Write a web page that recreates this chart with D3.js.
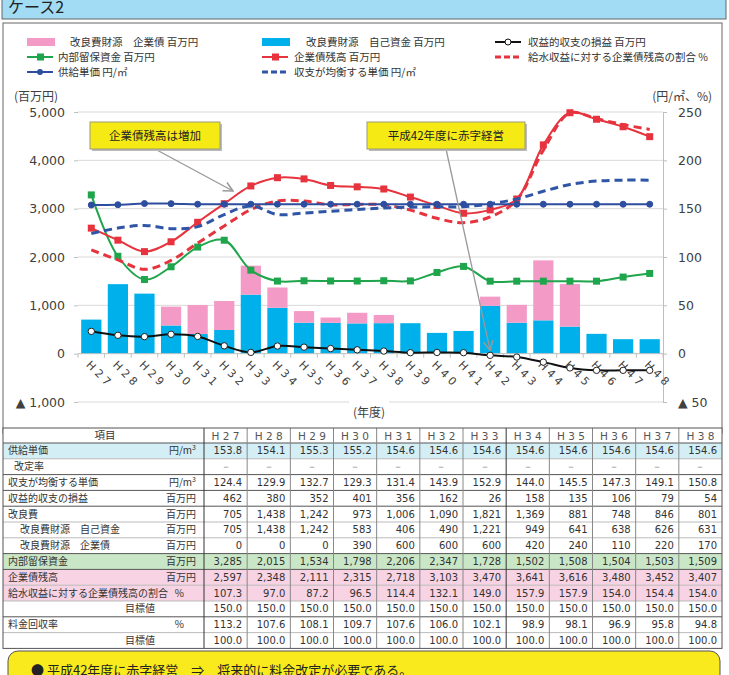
<!DOCTYPE html>
<html>
<head>
<meta charset="utf-8">
<script src="https://cdn.jsdelivr.net/npm/d3@7"></script>
<style>
  body { margin: 0; background: #fff; }
  svg { display: block; font-family: "Noto Sans CJK JP", sans-serif; }
</style>
</head>
<body>
<svg id="chart" width="729" height="675"></svg>
<script>
// ---- data (H27..H48) ----
const years = ['H27','H28','H29','H30','H31','H32','H33','H34','H35','H36','H37','H38',
               'H39','H40','H41','H42','H43','H44','H45','H46','H47','H48'];
// 改良費財源 自己資金 (百万円)
const jikoShikin = [705,1438,1242,583,406,490,1221,949,641,638,626,631,
                    630,430,470,990,640,690,560,410,300,300];
// 改良費財源 企業債 (百万円)
const kigyosai = [0,0,0,390,600,600,600,420,240,110,220,170,
                  0,0,0,190,370,1240,880,0,0,0];
// 収益的収支の損益 (百万円)
const soneki = [462,380,352,401,356,162,26,158,135,106,79,54,
                20,25,20,-35,-70,-175,-295,-345,-345,-345];
// 内部留保資金 (百万円)
const ryuho = [3285,2015,1534,1798,2206,2347,1728,1502,1508,1504,1503,1509,
               1505,1680,1805,1500,1500,1500,1500,1500,1585,1660];
// 企業債残高 (百万円)
const zandaka = [2597,2348,2111,2315,2718,3103,3470,3641,3616,3480,3452,3407,
                 3240,3065,2905,2975,3200,4320,4985,4850,4695,4490];
// 給水収益に対する企業債残高の割合 (%)
const zandakaRatio = [107.3,97.0,87.2,96.5,114.4,132.1,149.0,157.9,157.9,154.0,154.4,154.0,
                      148.5,140.0,135.5,141.5,159.0,210.5,249.0,243.0,237.0,232.0];
// 供給単価 (円/㎡)
const kyokyuTanka = [153.8,154.1,155.3,155.2,154.6,154.6,154.6,154.6,154.6,154.6,154.6,154.6,
                     154.6,154.6,154.6,154.6,154.6,154.6,154.6,154.6,154.6,154.6];
// 収支が均衡する単価 (円/㎡)
const kinkoTanka = [124.4,129.9,132.7,129.3,131.4,143.9,152.9,144.0,145.5,147.3,149.1,150.8,
                    151.5,152.0,152.0,155.0,160.0,168.0,175.0,178.5,179.5,179.5];

// table-only rows (H27..H38)
const kaiteiRitsu = Array(12).fill('－');
const kairyohi = [705,1438,1242,973,1006,1090,1821,1369,881,748,846,801];
const ratioTarget = Array(12).fill(150.0);
const kaishuRitsu = [113.2,107.6,108.1,109.7,107.6,106.0,102.1,98.9,98.1,96.9,95.8,94.8];
const kaishuTarget = Array(12).fill(100.0);

const leftTicks = [-1000,0,1000,2000,3000,4000,5000];
const rightTicks = [-50,0,50,100,150,200,250];

// ---- drawing ----
const svg = d3.select('#chart');
const NUM = '"DejaVu Sans", Verdana, sans-serif';
const C = {
  blue: '#00b0ea', pink: '#f49ac6', green: '#1fa54b', red: '#e6333d',
  navy: '#2d4d9e', navyDash: '#2f55a6', black: '#111', grid: '#d9d9d9', text: '#404040'
};

// header bar
svg.append('rect').attr('x', 2).attr('y', -2).attr('width', 724).attr('height', 21)
  .attr('fill', '#a2dcf4').attr('stroke', '#666');
svg.append('text').attr('x', 8).attr('y', 13).attr('font-size', 16).attr('fill', '#222')
  .text('ケース2');

// chart frame
svg.append('rect').attr('x', 3).attr('y', 23).attr('width', 719).attr('height', 410)
  .attr('fill', '#fff').attr('stroke', '#666');

const x = d3.scaleBand().domain(years).range([78, 663]).paddingInner(0.24).paddingOuter(0.12);
const cx = d => x(d) + x.bandwidth() / 2;
const yL = d3.scaleLinear().domain([-1000, 5000]).range([402, 112]);
const yR = d3.scaleLinear().domain([-50, 250]).range([402, 112]);

// gridlines
svg.append('g').selectAll('line').data(leftTicks.filter(v => v !== 0)).enter().append('line')
  .attr('x1', 78).attr('x2', 663)
  .attr('y1', d => yL(d)).attr('y2', d => yL(d))
  .attr('stroke', C.grid);

const fmtL = v => v < 0 ? '▲ ' + d3.format(',')(-v) : d3.format(',')(v);
const axL = svg.append('g').attr('transform', 'translate(78,0)')
  .call(d3.axisLeft(yL).tickValues(leftTicks).tickFormat(fmtL).tickSize(4).tickPadding(9));
const axR = svg.append('g').attr('transform', 'translate(663,0)')
  .call(d3.axisRight(yR).tickValues(rightTicks)
    .tickFormat(v => v < 0 ? '▲ ' + (-v) : v).tickSize(4).tickPadding(11));
axL.select('.domain').remove();
axR.select('.domain').attr('stroke', '#bfbfbf');
[axL, axR].forEach(a => {
  a.selectAll('.tick line').attr('stroke', '#bfbfbf');
  a.selectAll('text').attr('font-family', NUM).attr('font-size', 12.5).attr('fill', C.text);
});

// axis titles
svg.append('text').attr('x', 14).attr('y', 101).attr('font-size', 12).attr('fill', C.text).text('(百万円)');
svg.append('text').attr('x', 712).attr('y', 101).attr('text-anchor', 'end')
  .attr('font-size', 12).attr('fill', C.text).text('(円/㎡、%)');
svg.append('rect').attr('x', 349).attr('y', 398).attr('width', 40).attr('height', 10).attr('fill', '#fff');
svg.append('text').attr('x', 369).attr('y', 417).attr('text-anchor', 'middle')
  .attr('font-size', 12).attr('fill', C.text).text('(年度)');

// stacked bars
const bars = svg.append('g');
bars.selectAll('.own').data(years).enter().append('rect')
  .attr('x', d => x(d)).attr('width', x.bandwidth())
  .attr('y', (d, i) => yL(jikoShikin[i])).attr('height', (d, i) => yL(0) - yL(jikoShikin[i]))
  .attr('fill', C.blue);
bars.selectAll('.bond').data(years).enter().append('rect')
  .attr('x', d => x(d)).attr('width', x.bandwidth())
  .attr('y', (d, i) => yL(jikoShikin[i] + kigyosai[i]))
  .attr('height', (d, i) => yL(jikoShikin[i]) - yL(jikoShikin[i] + kigyosai[i]))
  .attr('fill', C.pink);

// x axis baseline & ticks
svg.append('line').attr('x1', 78).attr('x2', 663).attr('y1', yL(0)).attr('y2', yL(0)).attr('stroke', '#bfbfbf');
svg.append('g').selectAll('line').data(years.concat(['end'])).enter().append('line')
  .attr('x1', (d, i) => i < years.length ? x(d) - x.step() * x.paddingInner() / 2 : 663)
  .attr('x2', (d, i) => i < years.length ? x(d) - x.step() * x.paddingInner() / 2 : 663)
  .attr('y1', yL(0)).attr('y2', yL(0) + 4).attr('stroke', '#bfbfbf');

// category labels (rotated)
svg.append('g').selectAll('text').data(years).enter().append('text')
  .attr('transform', d => `translate(${cx(d) - 3},${yL(0) + 9}) rotate(45)`)
  .attr('font-family', NUM).attr('font-size', 11).attr('fill', C.text)
  .attr('dy', '0.35em')
  .text(d => d.split('').join(' '));

// lines
function series(vals, scale, color, width, dash) {
  const line = d3.line().x((d, i) => cx(years[i])).y(d => scale(d))
    .curve(d3.curveCatmullRom.alpha(0.5));
  svg.append('path').datum(vals).attr('d', line).attr('fill', 'none')
    .attr('stroke', color).attr('stroke-width', width)
    .attr('stroke-dasharray', dash || null);
}
function squares(vals, scale, color) {
  svg.append('g').selectAll('rect').data(vals).enter().append('rect')
    .attr('x', (d, i) => cx(years[i]) - 3.5).attr('y', d => scale(d) - 3.5)
    .attr('width', 7).attr('height', 7).attr('fill', color);
}
function dots(vals, scale, color, fill, r) {
  svg.append('g').selectAll('circle').data(vals).enter().append('circle')
    .attr('cx', (d, i) => cx(years[i])).attr('cy', d => scale(d)).attr('r', r)
    .attr('fill', fill).attr('stroke', color).attr('stroke-width', 1);
}

series(ryuho, yL, C.green, 2);
squares(ryuho, yL, C.green);
series(zandakaRatio, yR, C.red, 3, '8,5');
series(zandaka, yL, C.red, 2);
squares(zandaka, yL, C.red);
series(kinkoTanka, yR, C.navyDash, 3, '8,5');
series(kyokyuTanka, yR, C.navy, 2);
dots(kyokyuTanka, yR, C.navy, C.navy, 3);
series(soneki, yL, C.black, 2);
dots(soneki, yL, '#222', '#fff', 3.2);

// annotations
const defs = svg.append('defs');
defs.append('marker').attr('id', 'arr').attr('viewBox', '0 0 10 10').attr('refX', 9).attr('refY', 5)
  .attr('markerWidth', 9).attr('markerHeight', 9).attr('orient', 'auto')
  .append('path').attr('d', 'M1,1 L9,5 L1,9').attr('fill', 'none').attr('stroke', '#999').attr('stroke-width', 1.3);

function note(bx, by, bw, bh, label, ax, ay) {
  svg.append('line').attr('x1', bx + bw / 2 + (ax > bx + bw ? 0 : 0)).attr('y1', by + bh)
    .attr('x2', ax).attr('y2', ay).attr('stroke', '#999').attr('stroke-width', 1.3)
    .attr('marker-end', 'url(#arr)');
  svg.append('rect').attr('x', bx + 2).attr('y', by + 2).attr('width', bw).attr('height', bh).attr('fill', '#bbb');
  svg.append('rect').attr('x', bx).attr('y', by).attr('width', bw).attr('height', bh)
    .attr('fill', '#f6ea14').attr('stroke', '#9a9a7a');
  svg.append('text').attr('x', bx + bw / 2).attr('y', by + bh / 2 + 4).attr('text-anchor', 'middle')
    .attr('font-size', 11.5).attr('fill', '#222').text(label);
}
note(90, 122, 130, 27, '企業債残高は増加', 233, 191);
svg.select('line:last-of-type');
note(367, 122, 158, 27, '平成42年度に赤字経営', cx('H42'), yL(soneki[15]) - 5);

// legend
const lg = svg.append('g').attr('font-size', 10.5).attr('fill', '#333');
const legendItems = [
  { type: 'rect', color: C.pink, label: '改良費財源　企業債 百万円', sx: 27, tx: 70, y: 42 },
  { type: 'rect', color: C.blue, label: '改良費財源　自己資金 百万円', sx: 262, tx: 306, y: 42 },
  { type: 'circle', color: C.black, label: '収益的収支の損益 百万円', sx: 495, tx: 528, y: 42 },
  { type: 'square', color: C.green, label: '内部留保資金 百万円', sx: 27, tx: 58, y: 57 },
  { type: 'square', color: C.red, label: '企業債残高 百万円', sx: 262, tx: 294, y: 57 },
  { type: 'dash', color: C.red, label: '給水収益に対する企業債残高の割合 %', sx: 495, tx: 528, y: 57 },
  { type: 'dot', color: C.navy, label: '供給単価 円/㎡', sx: 27, tx: 58, y: 72 },
  { type: 'dash', color: C.navyDash, label: '収支が均衡する単価 円/㎡', sx: 262, tx: 294, y: 72 }
];
legendItems.forEach(it => {
  const g = lg.append('g');
  if (it.type === 'rect') {
    g.append('rect').attr('x', it.sx).attr('y', it.y - 4).attr('width', 28).attr('height', 8).attr('fill', it.color);
  } else if (it.type === 'dash') {
    g.append('line').attr('x1', it.sx).attr('x2', it.sx + 26).attr('y1', it.y).attr('y2', it.y)
      .attr('stroke', it.color).attr('stroke-width', 3).attr('stroke-dasharray', '6,3');
  } else {
    g.append('line').attr('x1', it.sx).attr('x2', it.sx + 26).attr('y1', it.y).attr('y2', it.y)
      .attr('stroke', it.color).attr('stroke-width', 2);
    if (it.type === 'square') {
      g.append('rect').attr('x', it.sx + 10).attr('y', it.y - 3.5).attr('width', 7).attr('height', 7).attr('fill', it.color);
    } else if (it.type === 'circle') {
      g.append('circle').attr('cx', it.sx + 13).attr('cy', it.y).attr('r', 3).attr('fill', '#fff').attr('stroke', it.color);
    } else {
      g.append('circle').attr('cx', it.sx + 13).attr('cy', it.y).attr('r', 3).attr('fill', it.color);
    }
  }
  g.append('text').attr('x', it.tx).attr('y', it.y + 4).text(it.label);
});

// ---- table ----
const tYears = years.slice(0, 12);
const tx = d3.scaleBand().domain(tYears).range([204, 722]);
const f1 = d3.format('.1f'), fi = d3.format(',');
const rows = [
  { label: '供給単価', unit: '円/m', sup: true, vals: kyokyuTanka.slice(0, 12), fmt: f1, fill: '#d4eef6' },
  { label: '改定率', lx: 14, vals: kaiteiRitsu, center: true },
  { label: '収支が均衡する単価', unit: '円/m', sup: true, vals: kinkoTanka.slice(0, 12), fmt: f1, thick: true },
  { label: '収益的収支の損益', unit: '百万円', vals: soneki.slice(0, 12), fmt: fi, thick: true },
  { label: '改良費', unit: '百万円', vals: kairyohi, fmt: fi, thick: true },
  { label: '改良費財源　自己資金', lx: 20, unit: '百万円', vals: jikoShikin.slice(0, 12), fmt: fi },
  { label: '改良費財源　企業債', lx: 20, unit: '百万円', vals: kigyosai.slice(0, 12), fmt: fi },
  { label: '内部留保資金', unit: '百万円', vals: ryuho.slice(0, 12), fmt: fi, fill: '#c9e7c6', thick: true },
  { label: '企業債残高', unit: '百万円', vals: zandaka.slice(0, 12), fmt: fi, fill: '#f7d3e3', thick: true },
  { label: '給水収益に対する企業債残高の割合', unit: '%', ux: 184, vals: zandakaRatio.slice(0, 12), fmt: f1, fill: '#f7d3e3' },
  { label: '目標値', right: 155, vals: ratioTarget, fmt: f1 },
  { label: '料金回収率', unit: '%', ux: 184, vals: kaishuRitsu, fmt: f1, thick: true },
  { label: '目標値', right: 155, vals: kaishuTarget, fmt: f1 }
];
const top0 = 428, headH = 15, rowH = 15.8;
const tg = svg.append('g').attr('font-size', 10).attr('fill', '#333');
tg.append('rect').attr('x', 3).attr('y', top0).attr('width', 719).attr('height', headH + rows.length * rowH).attr('fill', '#fff');
// header
tg.append('text').attr('x', 105).attr('y', top0 + 11).attr('text-anchor', 'middle').attr('font-size', 10.5).text('項目');
tg.selectAll('.hy').data(tYears).enter().append('text')
  .attr('x', d => tx(d) + tx.bandwidth() / 2).attr('y', top0 + 11.5).attr('text-anchor', 'middle')
  .attr('font-family', NUM).attr('font-size', 10.5).attr('fill', '#555')
  .text(d => d.split('').join(' '));

rows.forEach((r, ri) => {
  const y0 = top0 + headH + ri * rowH;
  if (r.fill) tg.append('rect').attr('x', 3).attr('y', y0).attr('width', 719).attr('height', rowH).attr('fill', r.fill);
  const base = y0 + rowH / 2 + 3.5;
  if (r.right) {
    tg.append('text').attr('x', r.right).attr('y', base).attr('text-anchor', 'end').text(r.label);
  } else {
    tg.append('text').attr('x', r.lx || 8).attr('y', base).text(r.label);
  }
  if (r.unit) {
    const t = tg.append('text').attr('x', r.ux || 196).attr('y', base).attr('text-anchor', 'end');
    t.append('tspan').text(r.unit);
    if (r.sup) t.append('tspan').attr('font-size', 7).attr('dy', -4).text('3');
  }
  tg.selectAll(null).data(r.vals).enter().append('text')
    .attr('x', (d, i) => r.center ? tx(tYears[i]) + tx.bandwidth() / 2 : tx(tYears[i]) + tx.bandwidth() - 5)
    .attr('y', base).attr('text-anchor', r.center ? 'middle' : 'end')
    .attr('font-family', NUM).attr('fill', r.center ? '#777' : '#333')
    .text(d => r.fmt ? r.fmt(d) : d);
  tg.append('line').attr('x1', 3).attr('x2', 722).attr('y1', y0).attr('y2', y0)
    .attr('stroke', r.thick || ri === 0 ? '#555' : '#bbb');
});
// verticals
tg.selectAll('.vl').data(tYears.slice(1)).enter().append('line')
  .attr('x1', d => tx(d)).attr('x2', d => tx(d)).attr('y1', top0).attr('y2', top0 + headH + rows.length * rowH)
  .attr('stroke', (d) => d === 'H34' ? '#333' : '#888');
tg.append('line').attr('x1', 204).attr('x2', 204).attr('y1', top0).attr('y2', top0 + headH + rows.length * rowH)
  .attr('stroke', '#333');
tg.append('rect').attr('x', 3).attr('y', top0).attr('width', 719).attr('height', headH + rows.length * rowH)
  .attr('fill', 'none').attr('stroke', '#555');

// conclusion box
svg.append('rect').attr('x', 8).attr('y', 651).attr('width', 712).attr('height', 40).attr('rx', 10)
  .attr('fill', '#f8ea1c').attr('stroke', '#555');
svg.append('text').attr('x', 31).attr('y', 675).attr('font-size', 13).attr('fill', '#222')
  .text('●  平成42年度に赤字経営　⇒　将来的に料金改定が必要である。');
</script>
</body>
</html>
